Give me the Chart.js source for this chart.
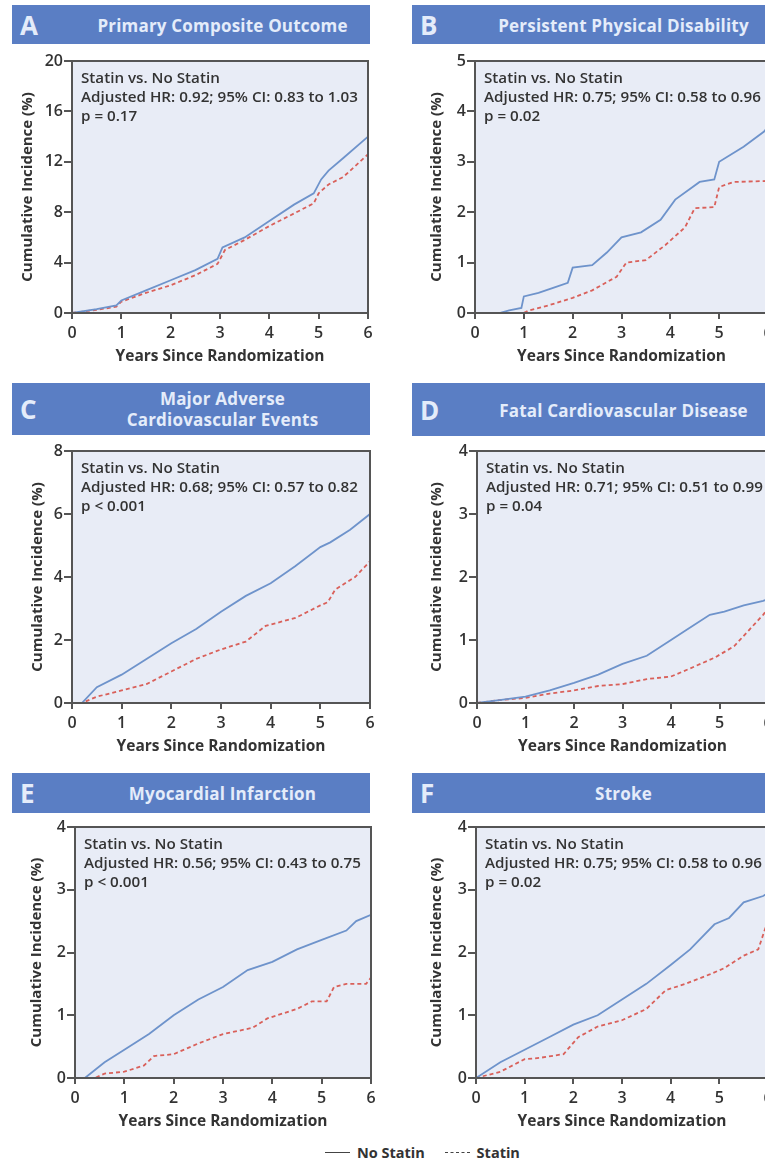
<!DOCTYPE html>
<html>
<head>
<meta charset="utf-8">
<script src="https://cdn.jsdelivr.net/npm/chart.js@4.4.1/dist/chart.umd.min.js"></script>
<style>
  html, body { margin: 0; padding: 0; background: #fff; overflow: hidden; }
  body { width: 765px; height: 1160px; position: relative; font-family: 'Open Sans', sans-serif; }
  canvas { position: absolute; }
  .hdr { position: absolute; background: #5a7ec4; color: #e4ecfa; box-sizing: border-box; }
  .hdr .letter { position: absolute; left: 8px; top: 50%; transform: translateY(-50%); font-size: 26px; font-weight: 700; }
  .hdr .ttl { position: absolute; left: 63px; right: 0; top: 50%; transform: translateY(-50%); text-align: center; font-size: 17px; font-weight: 700; line-height: 21px; letter-spacing: 0.2px; }
  .legend { position: absolute; top: 1141px; left: 325px; font-size: 14.5px; font-weight: 700; color: #333; white-space: nowrap; }
  .legend span.ln { display: inline-block; width: 25px; vertical-align: middle; margin-right: 7px; }
  .legend span.txt { margin-right: 16px; vertical-align: middle; }
</style>
</head>
<body>
<div id="page"></div>
<div class="legend">
  <span class="ln" style="border-top:1.5px solid #444"></span><span class="txt">No Statin</span>
  <span class="ln" style="border-top:1.5px dashed #444"></span><span class="txt">Statin</span>
</div>
<script>
// panel letters, titles and stats text
var letters = ["A", "B", "C", "D", "E", "F"];
var titles = ["Primary Composite Outcome", "Persistent Physical Disability", "Major Adverse<br>Cardiovascular Events",
              "Fatal Cardiovascular Disease", "Myocardial Infarction", "Stroke"];
var hrText = ["Adjusted HR: 0.92; 95% CI: 0.83 to 1.03", "Adjusted HR: 0.75; 95% CI: 0.58 to 0.96",
              "Adjusted HR: 0.68; 95% CI: 0.57 to 0.82", "Adjusted HR: 0.71; 95% CI: 0.51 to 0.99",
              "Adjusted HR: 0.56; 95% CI: 0.43 to 0.75", "Adjusted HR: 0.75; 95% CI: 0.58 to 0.96"];
var pText = ["p = 0.17", "p = 0.02", "p < 0.001", "p = 0.04", "p < 0.001", "p = 0.02"];

// y axis ranges
var yMax = [20, 5, 8, 4, 4, 4];
var yStep = [4, 1, 2, 1, 1, 1];

// A - primary composite outcome
var aNoYears = [0, 0.5, 0.9, 1.0, 1.5, 2.0, 2.5, 2.95, 3.05, 3.5, 4.0, 4.5, 4.9, 5.05, 5.2, 5.5, 6.0];
var aNoVals  = [0, 0.3, 0.6, 1.0, 1.8, 2.6, 3.4, 4.3, 5.2, 6.0, 7.3, 8.6, 9.5, 10.6, 11.3, 12.3, 14.0];
var aStYears = [0, 0.5, 0.9, 1.0, 1.5, 2.0, 2.5, 2.95, 3.1, 3.5, 4.0, 4.5, 4.9, 5.0, 5.2, 5.5, 6.0];
var aStVals  = [0, 0.25, 0.5, 0.9, 1.6, 2.2, 3.0, 3.9, 5.0, 5.8, 6.9, 7.9, 8.7, 9.5, 10.2, 10.8, 12.6];

// B - persistent physical disability
var bNoYears = [0, 0.5, 0.7, 0.95, 1.0, 1.3, 1.6, 1.9, 2.0, 2.4, 2.7, 3.0, 3.4, 3.8, 4.1, 4.6, 4.9, 5.0, 5.5, 5.92, 6.0];
var bNoVals  = [0, 0, 0.05, 0.1, 0.33, 0.4, 0.5, 0.6, 0.9, 0.95, 1.2, 1.5, 1.6, 1.85, 2.25, 2.6, 2.65, 3.0, 3.3, 3.6, 3.7];
var bStYears = [0, 1.0, 1.1, 1.5, 2.0, 2.4, 2.9, 3.1, 3.5, 3.9, 4.3, 4.5, 4.9, 5.0, 5.3, 6.0];
var bStVals  = [0, 0, 0.05, 0.15, 0.3, 0.45, 0.72, 1.0, 1.05, 1.35, 1.7, 2.08, 2.1, 2.5, 2.6, 2.62];

// C - MACE
var cNoYears = [0, 0.2, 0.5, 1.0, 1.5, 2.0, 2.5, 3.0, 3.5, 4.0, 4.5, 5.0, 5.2, 5.6, 6.0];
var cNoVals  = [0, 0, 0.5, 0.9, 1.4, 1.9, 2.35, 2.9, 3.4, 3.8, 4.35, 4.95, 5.1, 5.5, 6.0];
var cStYears = [0, 0.2, 0.5, 1.0, 1.5, 2.0, 2.5, 3.0, 3.5, 3.9, 4.5, 5.0, 5.15, 5.3, 5.7, 6.0];
var cStVals  = [0, 0, 0.2, 0.4, 0.6, 1.0, 1.4, 1.7, 1.95, 2.45, 2.7, 3.1, 3.2, 3.6, 4.0, 4.5];

// D - fatal CVD
var dNoYears = [0, 0.5, 1.0, 1.5, 2.0, 2.5, 3.0, 3.5, 4.0, 4.3, 4.8, 5.1, 5.5, 5.9, 6.0];
var dNoVals  = [0, 0.05, 0.1, 0.2, 0.32, 0.45, 0.62, 0.75, 1.0, 1.15, 1.4, 1.45, 1.55, 1.62, 1.65];
var dStYears = [0, 0.5, 1.0, 1.5, 2.0, 2.5, 3.0, 3.5, 4.0, 4.4, 4.9, 5.3, 5.6, 5.9, 6.0];
var dStVals  = [0, 0.05, 0.08, 0.15, 0.2, 0.27, 0.3, 0.38, 0.42, 0.55, 0.72, 0.9, 1.15, 1.4, 1.5];

// E - MI
var eNoYears = [0, 0.2, 0.6, 1.0, 1.5, 2.0, 2.5, 3.0, 3.5, 4.0, 4.5, 5.0, 5.5, 5.7, 6.0];
var eNoVals  = [0, 0, 0.25, 0.45, 0.7, 1.0, 1.25, 1.45, 1.72, 1.85, 2.05, 2.2, 2.35, 2.5, 2.6];
var eStYears = [0, 0.4, 0.6, 1.0, 1.4, 1.6, 2.0, 2.5, 3.0, 3.6, 3.9, 4.5, 4.8, 5.1, 5.25, 5.5, 5.9, 6.0];
var eStVals  = [0, 0, 0.07, 0.1, 0.2, 0.35, 0.38, 0.55, 0.7, 0.8, 0.95, 1.1, 1.22, 1.22, 1.45, 1.5, 1.5, 1.6];

// F - stroke
var fNoYears = [0, 0.5, 1.0, 1.5, 2.0, 2.5, 3.0, 3.5, 4.0, 4.4, 4.9, 5.2, 5.5, 5.9, 6.0];
var fNoVals  = [0, 0.25, 0.45, 0.65, 0.85, 1.0, 1.25, 1.5, 1.8, 2.05, 2.45, 2.55, 2.8, 2.9, 2.95];
var fStYears = [0, 0.5, 1.0, 1.3, 1.8, 2.1, 2.5, 3.0, 3.5, 3.9, 4.3, 4.8, 5.1, 5.5, 5.8, 5.95, 6.0];
var fStVals  = [0, 0.1, 0.3, 0.32, 0.38, 0.65, 0.82, 0.92, 1.1, 1.4, 1.5, 1.65, 1.75, 1.95, 2.05, 2.4, 2.5];

var series = [
  [aNoYears, aNoVals, aStYears, aStVals],
  [bNoYears, bNoVals, bStYears, bStVals],
  [cNoYears, cNoVals, cStYears, cStVals],
  [dNoYears, dNoVals, dStYears, dStVals],
  [eNoYears, eNoVals, eStYears, eStVals],
  [fNoYears, fNoVals, fStYears, fStVals]
];

// page layout (pixels)
var layout = [
  { cx: 0,   cy: 50,  cw: 390, ch: 320, yw: 72, yt: 20, pr: 22, hx: 12,  hy: 5,   hw: 358, hh: 39 },
  { cx: 400, cy: 50,  cw: 400, ch: 320, yw: 75, yt: 29, pr: 32, hx: 412, hy: 5,   hw: 360, hh: 39 },
  { cx: 0,   cy: 440, cw: 390, ch: 320, yw: 72, yt: 30, pr: 20, hx: 12,  hy: 383, hw: 358, hh: 52 },
  { cx: 400, cy: 440, cw: 400, ch: 320, yw: 77, yt: 29, pr: 32, hx: 412, hy: 383, hw: 360, hh: 53 },
  { cx: 0,   cy: 816, cw: 390, ch: 319, yw: 75, yt: 29, pr: 19, hx: 12,  hy: 773, hw: 358, hh: 40 },
  { cx: 400, cy: 816, cw: 400, ch: 319, yw: 76, yt: 29, pr: 32, hx: 412, hy: 773, hw: 360, hh: 40 }
];

Chart.defaults.font.family = "'Open Sans', sans-serif";
Chart.defaults.color = '#333';

var panelDecor = {
  id: 'panelDecor',
  beforeDatasetsDraw: function (chart) {
    var a = chart.chartArea, ctx = chart.ctx;
    ctx.save();
    ctx.fillStyle = '#e8ecf6';
    ctx.fillRect(a.left, a.top, a.right - a.left, a.bottom - a.top);
    ctx.restore();
  },
  afterDatasetsDraw: function (chart, args, opts) {
    var a = chart.chartArea, ctx = chart.ctx;
    ctx.save();
    ctx.strokeStyle = '#555';
    ctx.lineWidth = 2;
    ctx.strokeRect(a.left, a.top, a.right - a.left, a.bottom - a.top);
    ctx.fillStyle = '#333';
    ctx.font = "600 15.2px 'Open Sans', sans-serif";
    ctx.textBaseline = 'middle';
    opts.lines.forEach(function (t, i) {
      ctx.fillText(t, a.left + 9, a.top + 18 + i * 19);
    });
    ctx.restore();
  }
};

var page = document.getElementById('page');

letters.forEach(function (letter, i) {
  var L = layout[i];
  var hdr = document.createElement('div');
  hdr.className = 'hdr';
  hdr.style.left = L.hx + 'px';
  hdr.style.top = L.hy + 'px';
  hdr.style.width = L.hw + 'px';
  hdr.style.height = L.hh + 'px';
  hdr.innerHTML = '<span class="letter">' + letter + '</span><span class="ttl">' + titles[i] + '</span>';
  page.appendChild(hdr);

  var cv = document.createElement('canvas');
  cv.width = L.cw;
  cv.height = L.ch;
  cv.style.left = L.cx + 'px';
  cv.style.top = L.cy + 'px';
  page.appendChild(cv);

  var s = series[i];
  var noPts = s[0].map(function (x, k) { return { x: x, y: s[1][k] }; });
  var stPts = s[2].map(function (x, k) { return { x: x, y: s[3][k] }; });

  new Chart(cv.getContext('2d'), {
    type: 'line',
    data: {
      datasets: [
        { label: 'No Statin', data: noPts, borderColor: '#6e93cb', borderWidth: 1.8, pointRadius: 0, tension: 0 },
        { label: 'Statin', data: stPts, borderColor: '#d9605a', borderWidth: 1.8, borderDash: [4, 3], pointRadius: 0, tension: 0 }
      ]
    },
    options: {
      responsive: false,
      animation: false,
      layout: { padding: { top: 11, right: L.pr, left: 0, bottom: 0 } },
      plugins: {
        legend: { display: false },
        tooltip: { enabled: false },
        panelDecor: { lines: ['Statin vs. No Statin', hrText[i], pText[i]] }
      },
      scales: {
        x: {
          type: 'linear', min: 0, max: 6,
          ticks: { stepSize: 1, padding: 5, color: '#333', font: { size: 16, weight: '600' } },
          grid: { drawOnChartArea: false, tickLength: 6, color: '#555', lineWidth: 2 },
          border: { color: '#555', width: 2 },
          title: { display: true, text: 'Years Since Randomization', color: '#333',
                   font: { size: 15.5, weight: 'bold' }, padding: { top: 0, bottom: 4 } },
          afterFit: function (sc) { sc.height = 57; }
        },
        y: {
          min: 0, max: yMax[i],
          ticks: { stepSize: yStep[i], padding: 1, color: '#333', font: { size: 16, weight: '600' } },
          grid: { drawOnChartArea: false, tickLength: 8, color: '#555', lineWidth: 2 },
          border: { color: '#555', width: 2 },
          title: { display: true, text: 'Cumulative Incidence (%)', color: '#333',
                   font: { size: 15, weight: 'bold' }, padding: { top: L.yt - 1, bottom: 0 } },
          afterFit: function (sc) { sc.width = L.yw; }
        }
      }
    },
    plugins: [panelDecor]
  });
});
</script>
</body>
</html>
